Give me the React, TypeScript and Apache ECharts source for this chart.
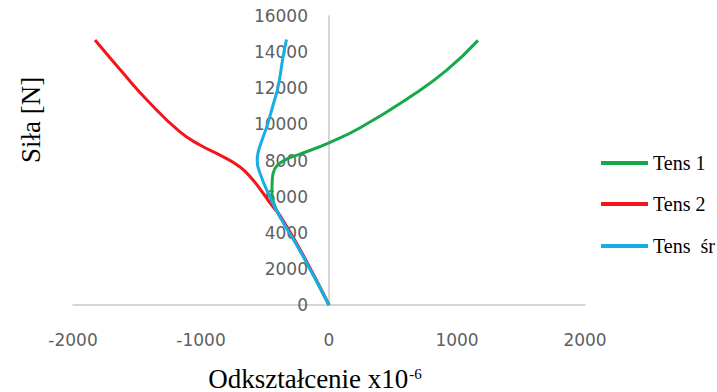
import React, { useEffect, useRef } from "react";
import * as echarts from "echarts";

const seriesNames = ["Tens 1", "Tens 2", "Tens  śr"];
const xTicks = [-2000, 2000, 1000];
const yTicks = [0, 16000, 2000];

// [strain x10^-6, force N]
const tens1: number[][] = [
  [0, 0], [-228, 3050], [-383, 4900], [-435, 5700], [-446, 6200], [-444, 6800],
  [-436, 7300], [-405, 7720], [-330, 8080], [-227, 8350], [0, 8980],
  [240, 9800], [650, 11600], [920, 13000], [1164, 14650],
];
const tens2: number[][] = [
  [0, 0], [-224, 3050], [-378, 4900], [-437, 5430], [-516, 6200], [-594, 6920],
  [-695, 7640], [-852, 8300], [-1008, 8860], [-1164, 9580], [-1422, 11350],
  [-1609, 12840], [-1828, 14670],
];
const tensSr: number[][] = [
  [0, 0], [-230, 3050], [-385, 4900], [-461, 5980], [-539, 7300], [-561, 8000],
  [-555, 8410], [-523, 9130], [-480, 10000], [-440, 11000], [-398, 12070],
  [-359, 13730], [-332, 14700],
];
const colors = ["#17a84a", "#f5141a", "#17aee8"];

export default function App() {
  const ref = useRef<HTMLDivElement>(null);
  useEffect(() => {
    if (!ref.current) return;
    const chart = echarts.init(ref.current, null, { renderer: "svg" });
    const data = [tens1, tens2, tensSr];
    const legendTops = [148, 189, 231];
    const gridLeft = 73;
    const gridRight = 132;
    const plotW = 717 - gridLeft - gridRight;
    const zeroOffset = plotW * (0 - xTicks[0]) / (xTicks[1] - xTicks[0]);
    const serif = "Liberation Serif, Times New Roman, serif";
    chart.setOption({
      animation: false,
      backgroundColor: "#ffffff",
      grid: { left: gridLeft, right: gridRight, top: 16, bottom: 87, outerBoundsMode: "none", containLabel: false },
      xAxis: {
        type: "value",
        min: xTicks[0],
        max: xTicks[1],
        interval: xTicks[2],
        axisLine: { onZero: true, lineStyle: { color: "#c8c8c8", width: 1.5 } },
        axisTick: { show: false },
        splitLine: { show: false },
        axisLabel: { margin: 26, color: "#5f5f5f", fontSize: 17, fontFamily: "DejaVu Sans", formatter: (v: number) => String(v) },
      },
      yAxis: {
        type: "value",
        min: yTicks[0],
        max: yTicks[1],
        interval: yTicks[2],
        position: "left",
        offset: -zeroOffset,
        axisLine: { show: true, onZero: false, lineStyle: { color: "#c8c8c8", width: 1.5 } },
        axisTick: { show: false },
        splitLine: { show: false },
        axisLabel: { margin: 21, color: "#5f5f5f", fontSize: 17, fontFamily: "DejaVu Sans", formatter: (v: number) => String(v) },
      },
      legend: seriesNames.map((n, i) => ({
        data: [n],
        orient: "vertical",
        left: 596,
        top: legendTops[i],
        icon: "rect",
        itemWidth: 47,
        itemHeight: 4,
        textStyle: { color: "#000", fontSize: 20, lineHeight: 20, fontFamily: serif },
      })),
      series: seriesNames.map((n, i) => ({
        name: n,
        type: "line",
        data: data[i],
        showSymbol: false,
        symbol: "none",
        smooth: 0.5,
        color: colors[i],
        lineStyle: { width: 3, color: colors[i] },
        z: 2 + i,
      })),
      graphic: [
        {
          type: "text",
          x: 31,
          y: 120,
          rotation: Math.PI / 2,
          style: {
            text: "Siła [N]",
            fontSize: 27,
            fontFamily: serif,
            fill: "#000",
            textAlign: "center",
            textVerticalAlign: "middle",
          },
        },
        {
          type: "text",
          x: 315,
          y: 379,
          style: {
            text: "{a|Odkształcenie x10}{b|-6}",
            textAlign: "center",
            textVerticalAlign: "middle",
            rich: {
              a: { fontSize: 27, lineHeight: 26, fontFamily: serif, fill: "#000", verticalAlign: "bottom" },
              b: { fontSize: 15, lineHeight: 26, fontFamily: serif, fill: "#000", verticalAlign: "top", padding: [0, 0, 0, 1] },
            },
          },
        },
      ],
    });
    return () => chart.dispose();
  }, []);
  return <div ref={ref} style={{ position: "fixed", left: 0, top: 0, width: 717, height: 392 }} />;
}
